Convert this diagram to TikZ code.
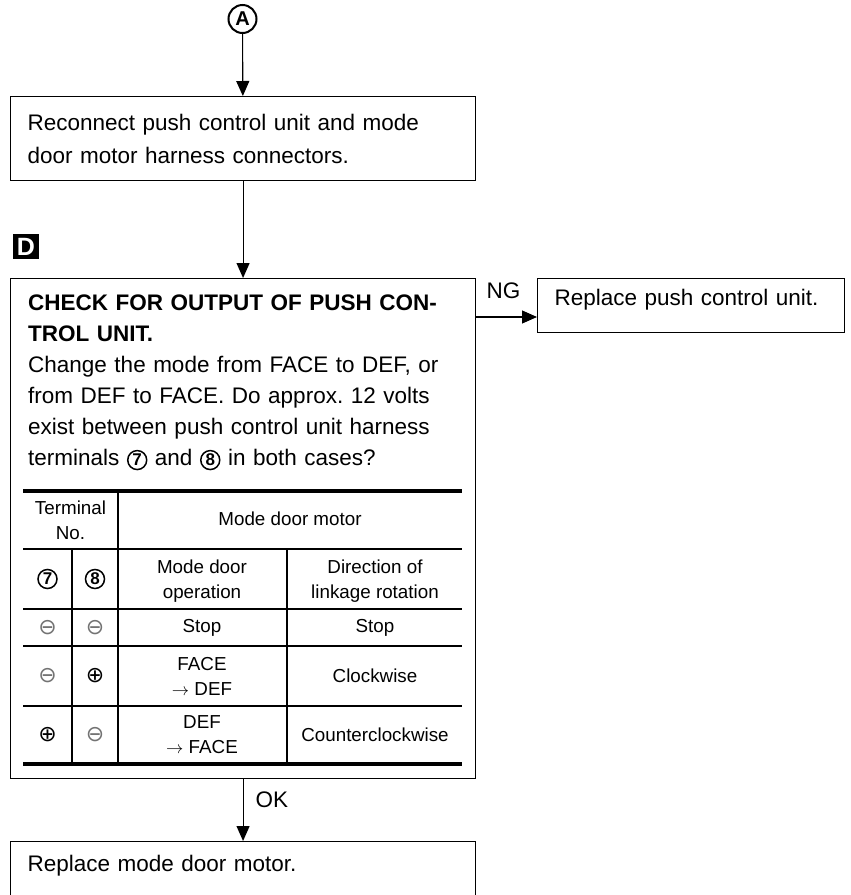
\documentclass[tikz,border=0pt]{standalone}
\usepackage{fontspec}
\setmainfont{Liberation Sans}
\newfontfamily\symfont{DejaVu Sans}
\usetikzlibrary{arrows.meta}
\frenchspacing
\tikzset{
  box/.style={draw,line width=1.1pt,anchor=north west,inner xsep=17pt,inner ysep=0pt,align=left,font=\fontsize{22.5}{33}\selectfont},
  flow/.style={line width=1.1pt,-{Triangle[length=15pt,width=13pt]}},
  lbl/.style={font=\fontsize{22.5}{31}\selectfont,inner sep=0pt},
  cell/.style={font=\fontsize{18.8}{25}\selectfont,align=center,inner sep=0pt},
  cnumst/.style={circle,draw,line width=1.5pt,text width={},minimum size=19pt,inner sep=0pt,font=\fontsize{17}{17}\bfseries\selectfont},
  sign/.style={inner sep=0pt,font=\symfont\fontsize{22}{22}\selectfont},
  thin rule/.style={line width=1.2pt},
  thick rule/.style={line width=3.5pt},
}
\newcommand\cnum[1]{\tikz[baseline=(cn.base)]\node[cnumst] (cn) {#1};}
\begin{document}
\begin{tikzpicture}[x=1pt,y=-1pt]
\useasboundingbox (0,0) rectangle (851,895);
% start mark and step D
\node[circle,draw,line width=2pt,minimum size=28pt,inner sep=0pt,font=\fontsize{20}{20}\bfseries\selectfont] (A) at (242.5,19) {A};
\node[fill=black,text=white,minimum width=26pt,minimum height=25pt,inner sep=0pt,font=\fontsize{25}{25}\bfseries\selectfont] (D) at (26,246.5) {D};
% boxes
\node[box,text width=431pt,minimum height=84pt] (rec) at (10,96) {Reconnect push control unit and mode\\door motor harness connectors.};
\node[box,minimum width=465pt,minimum height=500pt] (check) at (10,278) {};
\node[lbl,anchor=north west,text width=440pt,align=left] (checktext) at (28,295)
  {{\bfseries CHECK FOR OUTPUT OF PUSH CON-\\TROL UNIT.}\\
   Change the mode from FACE to DEF, or\\
   from DEF to FACE. Do approx. 12 volts\\
   exist between push control unit harness\\
   terminals \cnum{7} and \cnum{8} in both cases?};
\node[box,text width=273pt,minimum height=54pt,text height=16pt,text depth=16pt] (pcu) at (537,278) {Replace push control unit.};
\node[box,text width=431pt,minimum height=60pt,text height=16pt,text depth=16pt] (motor) at (10,841) {Replace mode door motor.};
% connectors
\coordinate (ngy) at (0,317);
\draw[flow] (A) -- (rec);
\draw[flow] (rec) -- (check);
\draw[flow] (check.east |- ngy) -- node[lbl,pos=0,anchor=south west,xshift=10pt,yshift=18pt] (ng) {NG} (pcu.west |- ngy);
\draw[flow] (check.south) -- node[lbl,pos=0.33,right=12pt] (ok) {OK} (motor.north);
% table
\draw[thick rule] (23,491) -- (462,491);
\draw[thick rule] (23,764) -- (462,764);
\foreach \y in {549,609,646,706} \draw[thin rule] (23,\y) -- (462,\y);
\draw[thin rule] (118,491) -- (118,764);
\foreach \x in {72,287} \draw[thin rule] (\x,549) -- (\x,764);
\node[cell] (term) at (70.5,520) {Terminal\\No.};
\node[cell] (mdm) at (290,519) {Mode door motor};
\node[cnumst] (t7) at (47.5,579) {7};
\node[cnumst] (t8) at (95,579) {8};
\node[cell] (op) at (202,581) {Mode door\\operation};
\node[cell] (dir) at (375,581) {Direction of\\linkage rotation};
\node[sign,text=black!55] (s1a) at (47.5,627.5) {⊖};
\node[sign,text=black!55] (s1b) at (95,627.5) {⊖};
\node[cell] (stop1) at (202,627.5) {Stop};
\node[cell] (stop2) at (375,627.5) {Stop};
\node[sign,text=black!55] (s2a) at (47.5,676) {⊖};
\node[sign] (s2b) at (95,676) {⊕};
\node[cell] (fd) at (202,676) {FACE\\$\rightarrow$ DEF};
\node[cell] (cw) at (375,676) {Clockwise};
\node[sign] (s3a) at (47.5,735) {⊕};
\node[sign,text=black!55] (s3b) at (95,735) {⊖};
\node[cell] (df) at (202,735) {DEF\\$\rightarrow$ FACE};
\node[cell] (ccw) at (375,735) {Counterclockwise};
\end{tikzpicture}
\end{document}
